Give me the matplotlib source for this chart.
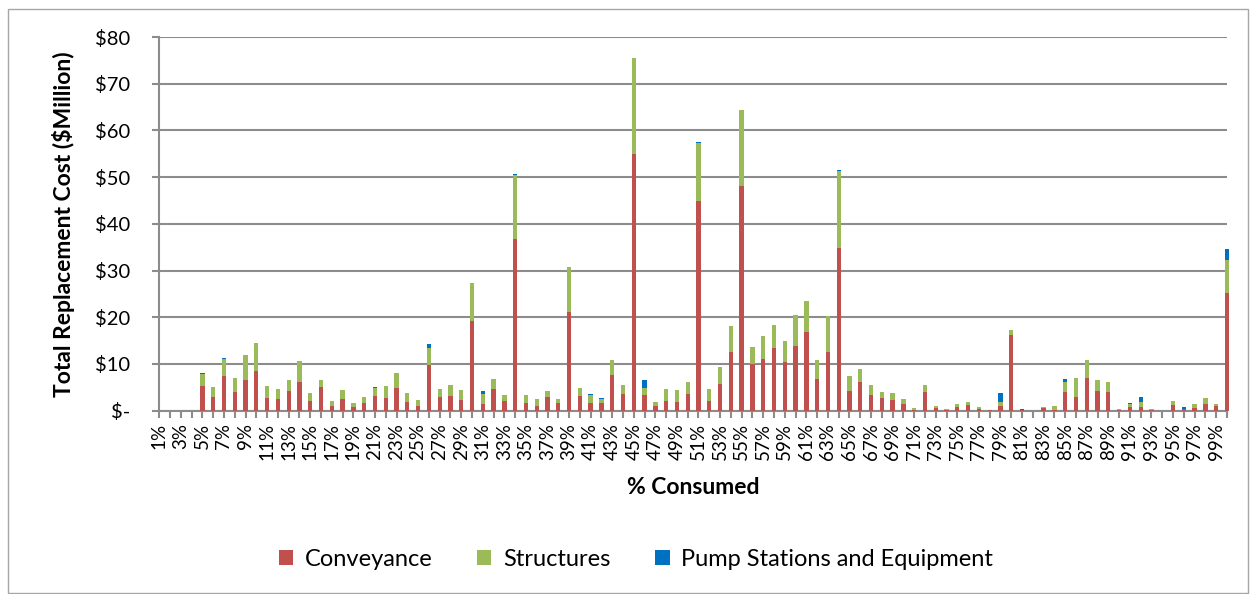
import matplotlib.pyplot as plt
from matplotlib.patches import Rectangle
import numpy as np

plt.rcParams['font.family'] = ['Lato', 'DejaVu Sans']

categories = [f"{i}%" for i in range(1, 101)]

conveyance = [0, 0, 0, 0, 5.2, 3.0, 7.5, 4.1, 6.5, 8.4,
              2.8, 2.5, 4.3, 6.05, 2.15, 5.1, 1.0, 2.4, 0.86, 1.7,
              3.1, 2.8, 4.95, 1.8, 1.08, 9.7, 2.9, 3.2, 2.3, 19.2,
              1.37, 4.6, 2.1, 36.7, 1.7, 1.08, 3.0, 1.7, 21.2, 3.2,
              1.7, 1.7, 7.55, 3.65, 55.0, 3.45, 1.0, 2.15, 1.95, 3.65,
              44.9, 2.15, 5.8, 12.6, 48.1, 10.1, 11.1, 13.5, 10.4, 13.9,
              16.9, 6.8, 12.6, 34.9, 4.3, 6.05, 3.45, 2.75, 2.35, 1.35,
              0.2, 3.9, 0.6, 0.1, 0.7, 1.2, 0.35, 0.05, 1.0, 16.25,
              0.05, 0, 0.6, 0.05, 4.0, 3.0, 7.1, 4.3, 3.9, 0.05,
              0.8, 0.85, 0.1, 0, 1.3, 0.3, 0.65, 1.5, 1.0, 25.2]

structures = [0, 0, 0, 0, 2.65, 2.1, 3.6, 2.8, 5.4, 6.1,
              2.45, 2.25, 2.25, 4.6, 1.65, 1.4, 1.1, 2.0, 0.8, 1.25,
              1.85, 2.4, 3.1, 1.95, 1.2, 3.8, 1.7, 2.3, 2.15, 8.05,
              2.25, 2.1, 1.3, 13.85, 1.6, 1.35, 1.3, 0.75, 9.5, 1.6,
              1.6, 0.8, 3.25, 1.85, 20.4, 1.45, 0.87, 2.45, 2.5, 2.55,
              12.4, 2.55, 3.6, 5.5, 16.2, 3.5, 4.9, 4.8, 4.5, 6.6,
              6.5, 4.1, 7.7, 16.4, 3.2, 2.85, 1.95, 1.25, 1.4, 1.25,
              0.4, 1.6, 0.4, 0.2, 0.7, 0.6, 0.35, 0.1, 0.9, 1.0,
              0.05, 0, 0.2, 0.95, 2.2, 4.1, 3.8, 2.2, 2.2, 0.3,
              0.65, 1.1, 0.2, 0, 0.7, 0.05, 0.8, 1.3, 0.45, 7.0]

pump_stations = [0, 0, 0, 0, 0.15, 0, 0.2, 0, 0, 0,
                 0, 0, 0, 0, 0, 0.05, 0, 0, 0, 0,
                 0.1, 0, 0, 0.1, 0, 0.7, 0, 0, 0, 0,
                 0.6, 0, 0, 0.15, 0, 0, 0, 0, 0, 0,
                 0.35, 0.2, 0, 0, 0, 1.65, 0, 0, 0, 0,
                 0.2, 0, 0, 0, 0, 0, 0, 0, 0, 0,
                 0, 0, 0, 0.2, 0, 0, 0.2, 0, 0, 0,
                 0, 0, 0, 0, 0, 0, 0.1, 0, 1.9, 0,
                 0.25, 0, 0, 0, 0.6, 0, 0, 0, 0, 0,
                 0.2, 1.0, 0, 0, 0, 0.4, 0, 0, 0, 2.4]

yticks = [0, 10, 20, 30, 40, 50, 60, 70, 80]
ytick_labels = ["$-", "$10", "$20", "$30", "$40", "$50", "$60", "$70", "$80"]

red = '#C0504D'
green = '#9BBB59'
blue = '#0070C0'

fig = plt.figure(figsize=(12.52, 5.94), dpi=100)
ax = fig.add_axes([0.1272, 0.3086, 0.8528, 0.6291])

x = np.arange(1, 101)
conv = np.array(conveyance)
struct = np.array(structures)
pump = np.array(pump_stations)

w = 0.4
ax.bar(x, conv, w, color=red, label='Conveyance', clip_on=False, zorder=3)
ax.bar(x, struct, w, bottom=conv, color=green, label='Structures', clip_on=False, zorder=3)
ax.bar(x, pump, w, bottom=conv + struct, color=blue,
       label='Pump Stations and Equipment', clip_on=False, zorder=3)

ax.set_xlim(1, 100)
ax.set_ylim(0, 80)
ax.set_yticks(yticks)
ax.set_yticklabels(ytick_labels, fontsize=14.5)
ax.set_xticks(x)
ax.set_xticklabels([c if i % 2 == 0 else '' for i, c in enumerate(categories)],
                   rotation=90, fontsize=13.5)

ax.grid(axis='y', color='#8C8C8C', linewidth=1.5, zorder=0)
ax.set_axisbelow(True)
for s in ['top', 'right']:
    ax.spines[s].set_visible(False)
for s in ['left', 'bottom']:
    ax.spines[s].set_color('#8C8C8C')
    ax.spines[s].set_linewidth(1.5)
ax.tick_params(axis='y', length=5, width=1.5, color='#8C8C8C', pad=16)
ax.tick_params(axis='x', length=5, width=1.5, color='#8C8C8C', pad=4)

ax.set_ylabel('Total Replacement Cost ($Million)', fontsize=16.5, fontweight='bold', labelpad=14)
ax.set_xlabel('% Consumed', fontsize=16.5, fontweight='bold', labelpad=12)

fig.legend(loc='center', bbox_to_anchor=(0.508, 0.058), ncol=3, frameon=False,
           fontsize=17, handlelength=0.6, handleheight=0.6, handletextpad=0.5,
           columnspacing=1.9)

fig.patches.append(Rectangle((8 / 1252, 0.002), 1 - 12 / 1252, 1 - 10 / 594,
                             transform=fig.transFigure, fill=False,
                             edgecolor='#A6A6A6', linewidth=1))

fig.savefig('out.png', dpi=100)
